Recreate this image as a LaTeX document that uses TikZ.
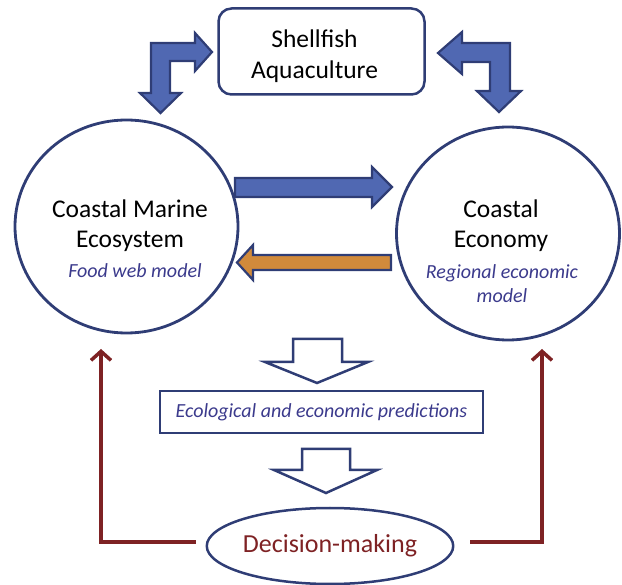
\documentclass[tikz,border=0pt]{standalone}
\usepackage{fontspec}
\setmainfont{Carlito}
\usepackage{xcolor}
\usetikzlibrary{arrows.meta, shapes.geometric}

\definecolor{navy}{HTML}{2F3D75}
\definecolor{arrowblue}{HTML}{5068B2}
\definecolor{arroworange}{HTML}{D18A3B}
\definecolor{labelblue}{HTML}{3B3A8C}
\definecolor{darkred}{HTML}{7E2224}

\tikzset{
  modelcircle/.style={draw=navy, line width=2.8pt, ellipse, inner sep=0pt, minimum width=223pt, minimum height=213pt},
  fatarrow/.style={draw=navy, line width=2.2pt, line join=miter},
  hollowarrow/.style={draw=navy, line width=2.5pt, fill=white, line join=miter},
  loopline/.style={draw=darkred, line width=3.5pt, -{Straight Barb[length=9pt, width=20pt]}},
  mainlabel/.style={font=\fontsize{25.5}{30.5}\selectfont, align=center, inner sep=0pt},
  sublabel/.style={font=\fontsize{20}{24.5}\selectfont\itshape, text=labelblue, align=center, inner sep=0pt}
}

\begin{document}
\begin{tikzpicture}[x=1pt, y=-1pt]
\useasboundingbox (0,0) rectangle (622,585);
% top box and the two models
\node[draw=navy, line width=2.5pt, rounded corners=13pt, minimum width=206pt, minimum height=86pt] (aqua) at (321.5,51.5) {};
\node[mainlabel] (aqualabel) at ([shift={(-7,4.5)}]aqua.center) {Shellfish\\Aquaculture};
\node[modelcircle] (eco) at (126.5,226.5) {};
\node[mainlabel] (ecolabel) at ([shift={(3.5,-1)}]eco.center) {Coastal Marine\\Ecosystem};
\node[sublabel] (ecosub) at ([shift={(8.5,44)}]eco.center) {Food web model};
\node[modelcircle] (econ) at (508,233.5) {};
\node[mainlabel] (econlabel) at ([shift={(-7,-8)}]econ.center) {Coastal\\Economy};
\node[sublabel] (econsub) at ([shift={(-6,50)}]econ.center) {Regional economic\\model};
% bent arrows round the aquaculture box
\draw[fatarrow, fill=arrowblue] (151,93) -- (151,43) -- (195,43) -- (195,33) -- (212,52) -- (195,71) -- (195,61) -- (170,61) -- (170,93) -- (181,93) -- (160.5,113) -- (140,93) -- cycle;
\draw[fatarrow, fill=arrowblue] (510,91) -- (510,43) -- (462,43) -- (462,32) -- (438,53) -- (462,74) -- (462,62) -- (490,62) -- (490,91) -- (477,91) -- (499,112) -- (521,91) -- cycle;
% exchange between the models
\draw[fatarrow, fill=arrowblue] (235,178) -- (372,178) -- (372,167) -- (392,187) -- (372,207) -- (372,197) -- (235,197) -- cycle;
\draw[fatarrow, fill=arroworange] (391,255) -- (253,255) -- (253,245) -- (237,262.5) -- (253,280) -- (253,270) -- (391,270) -- cycle;
% predictions and decision
\draw[hollowarrow] (293,339) -- (342,339) -- (342,362) -- (368,362) -- (317,383) -- (265,362) -- (293,362) -- cycle;
\node[draw=navy, line width=2.5pt, minimum width=323pt, minimum height=42pt, font=\fontsize{20}{24}\selectfont\itshape, text=labelblue] (pred) at (321.5,412) {Ecological and economic predictions};
\draw[hollowarrow] (302,449) -- (350,449) -- (350,470) -- (377,470) -- (326,493) -- (274,470) -- (302,470) -- cycle;
\node[draw=navy, line width=2.5pt, ellipse, inner sep=0pt, minimum width=204pt, minimum height=76pt, font=\fontsize{26}{30}\selectfont, text=darkred] (dec) at (330,546) {Decision-making};
% feedback to the models
\coordinate (ecoin) at (101,349);
\coordinate (econin) at (542,349);
\draw[loopline] ([shift={(-10,-4)}]dec.west) -| (ecoin);
\draw[loopline] ([shift={(16,-4)}]dec.east) -| (econin);
\end{tikzpicture}
\end{document}
